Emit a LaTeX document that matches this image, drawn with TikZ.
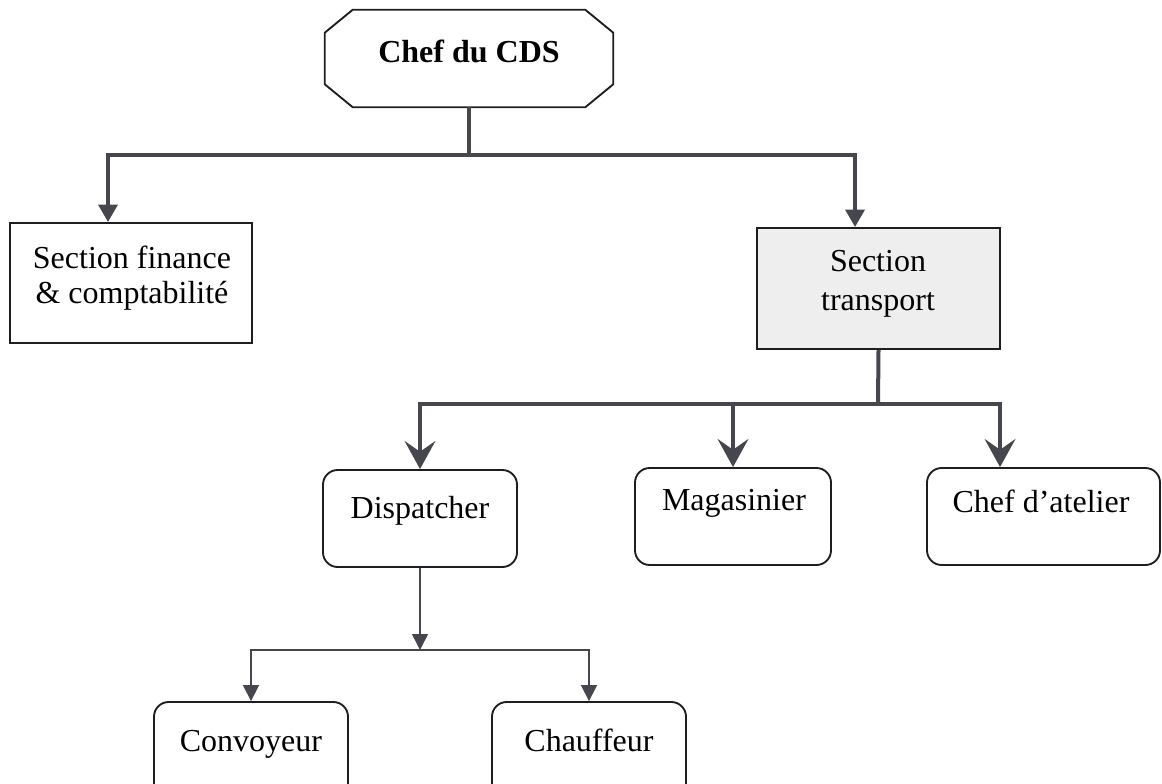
\documentclass[tikz,border=0pt]{standalone}
\usepackage{fontspec}
\setmainfont{Liberation Serif}
\usetikzlibrary{arrows.meta,fit}

\definecolor{wire}{HTML}{46464F}
\definecolor{edge}{HTML}{1E1E22}
\definecolor{shade}{HTML}{EEEEEE}

\tikzset{
  lbl/.style={inner sep=0pt, align=center, text=black,
              font=\fontsize{24}{26.25}\selectfont},
  sqbox/.style={draw=edge, line width=1.4pt, inner sep=0pt},
  rbox/.style={sqbox, rounded corners=11pt},
  frame/.style={inner sep=0pt},
  octline/.style={draw=edge, line width=1.4pt, line join=miter},
  heavy/.style={draw=wire, line width=3pt, line join=miter},
  thin/.style={draw=wire, line width=1.2pt},
  tipA/.style={-{Triangle[width=14pt,length=13pt]}},
  tipB/.style={-{Stealth[width=23pt,length=21pt,inset=8pt]}},
  tipC/.style={-{Triangle[width=12pt,length=12pt]}},
}

\begin{document}
\begin{tikzpicture}[x=0.75pt,y=-0.75pt]
  \useasboundingbox (0,0) rectangle (1162,784);

  % top box: an octagon drawn around its frame
  \node[frame, fit={(325,10) (613,107)}] (chef) {};
  \draw[octline]
    ([xshift=21pt]chef.north west) -- ([xshift=-21pt]chef.north east)
    -- ([yshift=-17.25pt]chef.north east) -- ([yshift=17.25pt]chef.south east)
    -- ([xshift=-21pt]chef.south east) -- ([xshift=21pt]chef.south west)
    -- ([yshift=17.25pt]chef.south west) -- ([yshift=-17.25pt]chef.north west)
    -- cycle;

  % boxes
  \node[sqbox, fit={(10,223) (252,343)}] (fin) {};
  \node[sqbox, fill=shade, fit={(757,228) (1000,349)}] (trans) {};
  \node[rbox, fit={(323,470) (517,567)}] (disp) {};
  \node[rbox, fit={(635,468) (831,565)}] (mag) {};
  \node[rbox, fit={(927,468) (1160,565)}] (atel) {};
  \node[rbox, fit={(154,702) (348,800)}] (conv) {};
  \node[rbox, fit={(492,702) (686,800)}] (chauf) {};

  % texts
  \node[lbl, anchor=base, font=\fontsize{24}{26.25}\selectfont\bfseries] (chef-t) at (469,63) {Chef du CDS};
  \node[lbl] (fin-t) at (132,278) {Section finance\\\& comptabilité};
  \node[lbl] (trans-t) at (878,284) {Section\\[3pt]transport};
  \node[lbl, anchor=base] (disp-t) at (420,518) {Dispatcher};
  \node[lbl, anchor=base] (mag-t) at (734,510) {Magasinier};
  \node[lbl, anchor=base] (atel-t) at (1041,512) {Chef d’atelier};
  \node[lbl, anchor=base] (conv-t) at (251,751) {Convoyeur};
  \node[lbl, anchor=base] (chauf-t) at (589,751) {Chauffeur};

  % junction points
  \coordinate (j1) at (469,155);
  \coordinate (j2) at (878,404);
  \coordinate (j3) at (420,650);

  % first level
  \draw[heavy] (chef.south) -- (j1);
  \draw[heavy, tipA] (j1) -| ([xshift=-17.25pt]fin.north);
  \draw[heavy, tipA] (j1) -| ([xshift=-17.6pt]trans.north);

  % second level
  \draw[heavy] (trans.south) -- (j2);
  \draw[heavy, tipB] (j2) -| (disp.north);
  \draw[heavy, tipB] (j2) -| (mag.north);
  \draw[heavy, tipB] (j2) -| ([xshift=-32.6pt]atel.north);

  % third level
  \draw[thin, tipC] (disp.south) -- (j3);
  \draw[thin, tipC] (j3) -| (conv.north);
  \draw[thin, tipC] (j3) -| (chauf.north);
\end{tikzpicture}
\end{document}
